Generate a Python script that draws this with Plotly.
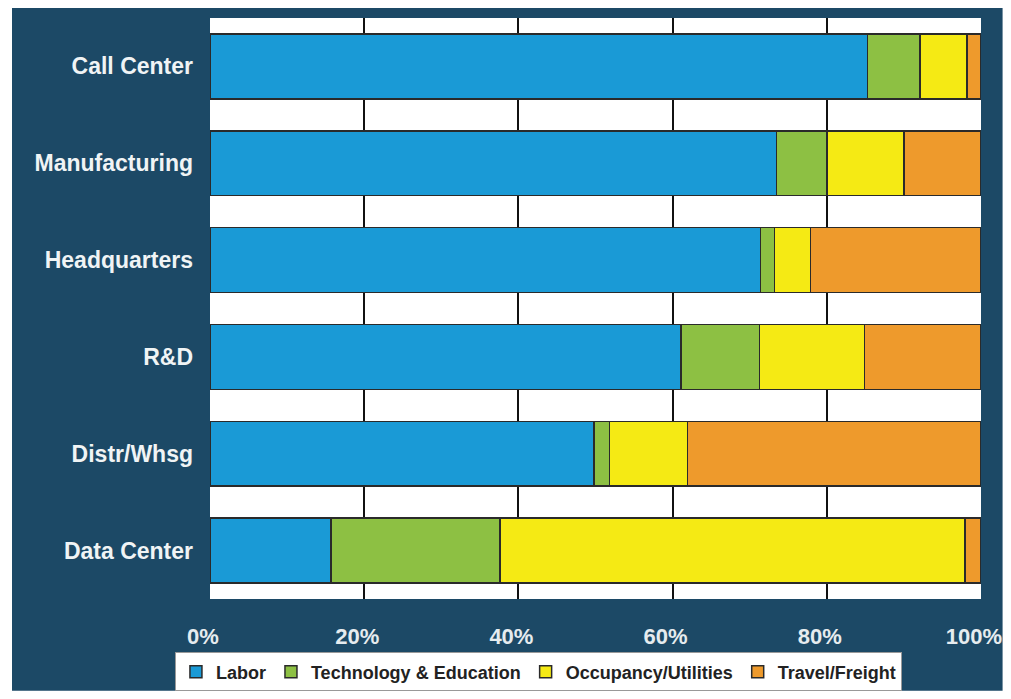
import plotly.graph_objects as go

categories = ["Call Center", "Manufacturing", "Headquarters", "R&D", "Distr/Whsg", "Data Center"]
labor = [85.3, 73.5, 71.4, 61.1, 49.8, 15.7]
tech_edu = [6.8, 6.5, 1.8, 10.2, 2.0, 21.9]
occupancy = [6.1, 10.0, 4.7, 13.6, 10.1, 60.3]
travel = [1.8, 10.0, 22.1, 15.1, 38.1, 2.1]

series_names = ["Labor", "Technology & Education", "Occupancy/Utilities", "Travel/Freight"]
series_values = [labor, tech_edu, occupancy, travel]
series_colors = ["#1a9ad6", "#8dc043", "#f5ea14", "#ee9a2c"]

x_ticks = [0, 20, 40, 60, 80, 100]
x_tick_labels = ["0%", "20%", "40%", "60%", "80%", "100%"]

fig = go.Figure()
for name, vals, col in zip(series_names, series_values, series_colors):
    fig.add_trace(go.Bar(
        y=categories, x=vals, name=name, orientation="h",
        marker=dict(color=col, line=dict(color="#2a2a2a", width=1.5)),
    ))

fig.update_layout(
    barmode="stack",
    bargap=0.33,
    width=995, height=683,
    margin=dict(l=202, r=22, t=10, b=92, autoexpand=False),
    paper_bgcolor="white",
    plot_bgcolor="white",
    font=dict(family="Liberation Sans, Arial, sans-serif"),
    showlegend=True,
    legend=dict(
        orientation="h",
        x=0.426, xanchor="center",
        y=-0.092, yanchor="top",
        bgcolor="white",
        bordercolor="#999999", borderwidth=1,
        font=dict(size=18, color="#222222", family="Liberation Sans, Arial, sans-serif", weight="bold"),
        itemwidth=30,
        traceorder="normal",
    ),
    xaxis=dict(
        range=[0, 100],
        tickvals=x_ticks, ticktext=x_tick_labels,
        showgrid=True, gridcolor="#111111", gridwidth=2,
        zeroline=False,
        showline=False,
        ticks="",
        automargin=False,
        ticklabelstandoff=22,
        ticklabelshift=-7,
        ticklabeloverflow="allow",
        tickfont=dict(size=22, color="#e6ecef", weight="bold"),
    ),
    yaxis=dict(
        categoryorder="array", categoryarray=categories,
        autorange="reversed",
        showgrid=False, zeroline=False, showline=False,
        ticks="",
        automargin=False,
        ticklabelstandoff=16,
        tickfont=dict(size=23, color="#f0f4f5", weight="bold"),
    ),
    shapes=[
        dict(type="rect", xref="paper", yref="paper",
             x0=-0.2568, x1=1.028, y0=-0.158, y1=1.017,
             fillcolor="#1c4966", line=dict(width=0), layer="below"),
        dict(type="rect", xref="x", yref="paper",
             x0=0, x1=100, y0=0, y1=1,
             fillcolor="white", line=dict(width=0), layer="below"),
    ],
)

fig.write_html("out.html", config={"displayModeBar": False})
